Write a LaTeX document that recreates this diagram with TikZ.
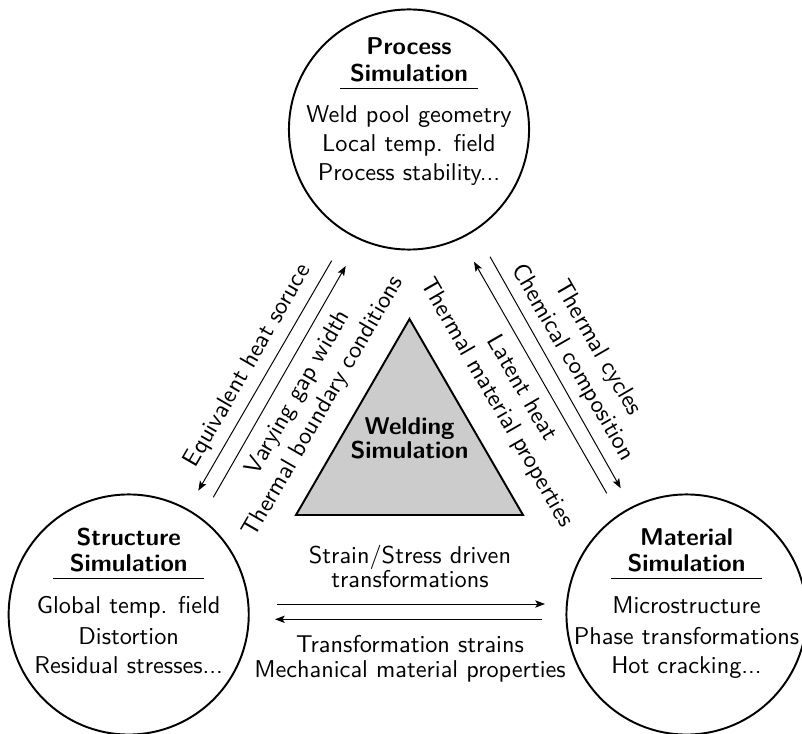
\documentclass[tikz,border=0pt]{standalone}
\usetikzlibrary{calc,arrows.meta}
\begin{document}
\begin{tikzpicture}[x=0.4115pt,y=-0.4115pt,
  font=\sffamily\fontsize{10}{12}\selectfont,
  bubble/.style={circle,draw,thick,minimum size=98.8pt,inner sep=0pt},
  ttl/.style={font=\sffamily\bfseries\fontsize{10}{12}\selectfont,anchor=base,inner sep=0pt},
  txt/.style={anchor=base,inner sep=0pt},
  link/.style={-{Stealth[length=4pt,width=3pt,inset=0.9pt]},line width=0.4pt},
  rulebar/.style={line width=0.4pt}
]
\useasboundingbox (0,0) rectangle (802,734);
\clip (0,0) rectangle (802,734);

% central triangle
\filldraw[fill=gray!40,thick] (409.5,319) -- (523,515) -- (296,515) -- cycle;
\node[ttl] (W1) at (409.5,434.3) {Welding};
\node[ttl] (W2) at (409.5,458.3) {Simulation};

% circles
\node[bubble] (P) at (409,129.5) {};
\node[bubble] (S) at (128.7,614.5) {};
\node[bubble] (M) at (686.5,614.5) {};

% process
\node[ttl] (P1) at ($(P)+(0,-74.5)$) {Process};
\node[ttl] (P2) at ($(P)+(0,-48.2)$) {Simulation};
\draw[rulebar] ($(P)+(-69,-41.4)$) -- ($(P)+(69,-41.4)$);
\node[txt] (P3) at ($(P)+(0,-6.5)$) {Weld pool geometry};
\node[txt] (P4) at ($(P)+(0,22.2)$) {Local temp. field};
\node[txt] (P5) at ($(P)+(0,50.8)$) {Process stability...};

% structure
\node[ttl] (S1) at ($(S)+(0,-69.5)$) {Structure};
\node[ttl] (S2) at ($(S)+(0,-42.8)$) {Simulation};
\draw[rulebar] ($(S)+(-75.5,-36.2)$) -- ($(S)+(75.5,-36.2)$);
\node[txt] (S3) at ($(S)+(0,-1.2)$) {Global temp. field};
\node[txt] (S4) at ($(S)+(0,29.5)$) {Distortion};
\node[txt] (S5) at ($(S)+(0,58.8)$) {Residual stresses...};

% material
\node[ttl] (M1) at ($(M)+(0,-69.5)$) {Material};
\node[ttl] (M2) at ($(M)+(0,-42.8)$) {Simulation};
\draw[rulebar] ($(M)+(-75.5,-36.2)$) -- ($(M)+(75.5,-36.2)$);
\node[txt] (M3) at ($(M)+(0,-1.2)$) {Microstructure};
\node[txt] (M4) at ($(M)+(0,29.5)$) {Phase transformations};
\node[txt] (M5) at ($(M)+(0,58.8)$) {Hot cracking...};

% arrow end points
\coordinate (a1s) at (331.7,260.7); \coordinate (a1e) at (198.3,490.7);
\coordinate (a2s) at (213.3,497.3); \coordinate (a2e) at (345.7,266);
\coordinate (a3s) at (606.7,493.3); \coordinate (a3e) at (474,261.7);
\coordinate (a4s) at (490,256.7);   \coordinate (a4e) at (620.7,488.3);
\coordinate (h1s) at (276.7,604);   \coordinate (h1e) at (545,604);
\coordinate (h2s) at (541.7,619.3); \coordinate (h2e) at (275,619.3);

\draw[link] (a1s) -- (a1e);
\draw[link] (a2s) -- (a2e);
\draw[link] (a3s) -- (a3e);
\draw[link] (a4s) -- (a4e);
\draw[link] (h1s) -- (h1e);
\draw[link] (h2s) -- (h2e);

% diagonal labels
\node[txt,rotate=60] (L1) at (253.3,369.0) {Equivalent heat soruce};
\node[txt,rotate=60] (L2) at (303.7,395.7) {Varying gap width};
\node[txt,rotate=60] (L3) at (328.9,410.2) {Thermal boundary conditions};
\node[txt,rotate=-60] (L4) at (516.1,391.5) {Latent heat};
\node[txt,rotate=-60] (L5) at (491,406) {Thermal material properties};
\node[txt,rotate=-60] (L6) at (567.05,365.75) {Chemical composition};
\node[txt,rotate=-60] (L7) at (592.15,351.25) {Thermal cycles};

% horizontal labels
\node[txt] (T1) at (410,563.3) {Strain/Stress driven};
\node[txt] (T2) at (410,587.3) {transformations};
\node[txt] (T3) at (410,652.7) {Transformation strains};
\node[txt] (T4) at (410,677.7) {Mechanical material properties};
\end{tikzpicture}
\end{document}
